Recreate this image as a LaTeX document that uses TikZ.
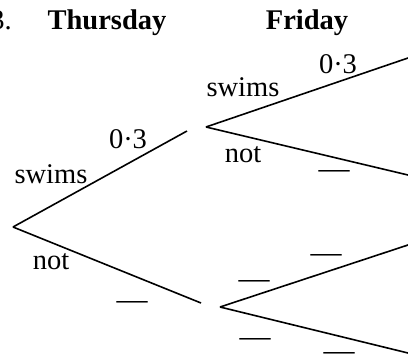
\documentclass[tikz,border=0pt]{standalone}
\usepackage{fontspec}
\setmainfont{Liberation Serif}
\begin{document}
\begin{tikzpicture}[x=1pt,y=-1pt,
  branch/.style={line width=1.6pt},
  lbl/.style={anchor=base,inner sep=0pt,font=\fontsize{28.5}{34}\selectfont},
  head/.style={anchor=base,inner sep=0pt,font=\fontsize{28.5}{34}\selectfont\bfseries},
  blank/.style={anchor=base,inner sep=0pt,font=\fontsize{31}{34}\selectfont}]
\useasboundingbox (0,0) rectangle (408,354);
% points
\coordinate (root) at (13,227);
\coordinate (ts) at (187,131);
\coordinate (tn) at (201,303);
\coordinate (fa) at (206,127);
\coordinate (fb) at (220,307);
\coordinate (e1) at (408,58);
\coordinate (e2) at (408,175);
\coordinate (e3) at (408,245);
\coordinate (e4) at (408,353);
% branches
\draw[branch] (root) -- (ts);
\draw[branch] (root) -- (tn);
\draw[branch] (fa) -- (e1);
\draw[branch] (fa) -- (e2);
\draw[branch] (fb) -- (e3);
\draw[branch] (fb) -- (e4);
% headings
\node[lbl,anchor=base east] (num) at (12,29) {3.};
\node[head] (thu) at (107,29) {Thursday};
\node[head] (fri) at (307,29) {Friday};
% labels
\node[lbl] (l1) at (51,183) {swims};
\node[lbl] (l2) at (128,148) {0·3};
\node[lbl] (l3) at (51,269) {not};
\node[lbl] (l4) at (243,96) {swims};
\node[lbl] (l5) at (338,73) {0·3};
\node[lbl] (l6) at (243,162) {not};
% blanks
\node[blank] (b1) at (132,309) {—};
\node[blank] (b2) at (334,178) {—};
\node[blank] (b3) at (254,288) {—};
\node[blank] (b4) at (326,262) {—};
\node[blank] (b5) at (255,346) {—};
\node[blank] (b6) at (339,360) {—};
\end{tikzpicture}
\end{document}
